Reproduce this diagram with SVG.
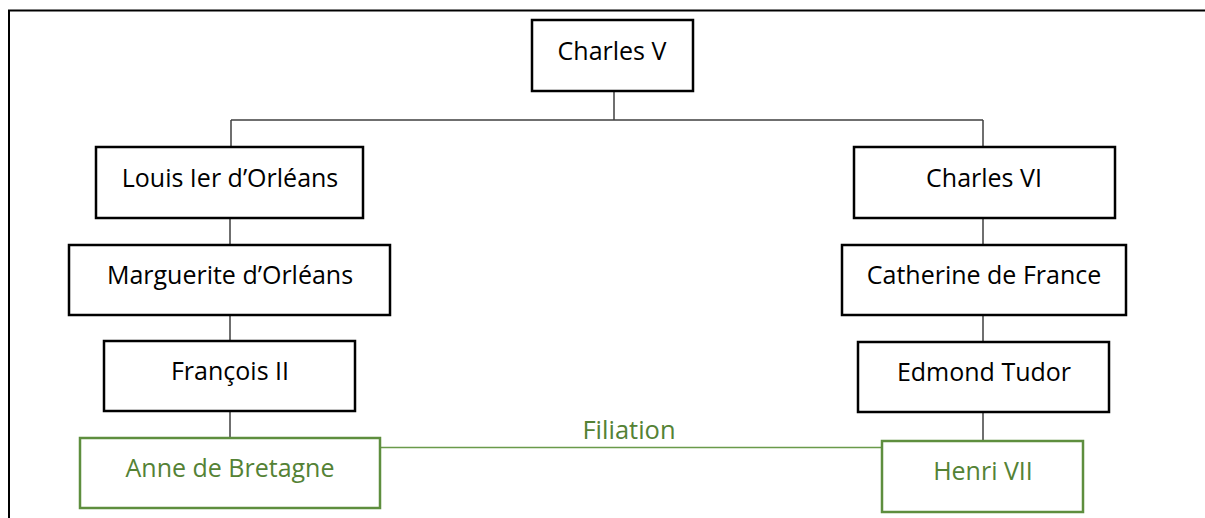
<svg xmlns="http://www.w3.org/2000/svg" width="1205" height="518" viewBox="0 0 1205 518">
<style>
.box{fill:#fff;stroke:#000;stroke-width:2.5}
.gbox{fill:#fff;stroke:#5E8E3E;stroke-width:2.5}
.t{font-family:"Open Sans","Liberation Sans",sans-serif;font-size:25px;fill:#000;text-anchor:middle}
.gt{fill:#548235}
.c{stroke:#404040;stroke-width:1.5;fill:none}
.gc{stroke:#6A9A4A;stroke-width:1.5;fill:none}
</style>
<rect width="1205" height="518" fill="#fff"/>
<path d="M9 518V10.5H1205" fill="none" stroke="#000" stroke-width="2"/>
<g id="connectors">
<path class="c" d="M614 91V120M231 120H983M231 120V147M983 120V147"/>
<path class="c" d="M230 218V245M230 315V341M230 411V438"/>
<path class="c" d="M983 218V245M983 315V342M983 412V441"/>
<path class="gc" d="M380 447.5H882"/>
<text class="t gt" x="629" y="439" style="font-size:25.5px">Filiation</text>
</g>
<g id="charles-v"><rect class="box" x="532" y="20" width="161" height="71"/><text class="t" x="612" y="60">Charles V</text></g>
<g id="louis"><rect class="box" x="96" y="147" width="267" height="71"/><text class="t" x="230" y="187">Louis Ier d’Orléans</text></g>
<g id="marguerite"><rect class="box" x="69" y="245" width="321" height="70"/><text class="t" x="230" y="284">Marguerite d’Orléans</text></g>
<g id="francois"><rect class="box" x="104" y="341" width="251" height="70"/><text class="t" x="230" y="380">François II</text></g>
<g id="anne"><rect class="gbox" x="80" y="438" width="300" height="70"/><text class="t gt" x="230" y="477">Anne de Bretagne</text></g>
<g id="charles-vi"><rect class="box" x="854" y="147" width="261" height="71"/><text class="t" x="984" y="187">Charles VI</text></g>
<g id="catherine"><rect class="box" x="842" y="245" width="284" height="70"/><text class="t" x="984" y="284">Catherine de France</text></g>
<g id="edmond"><rect class="box" x="858" y="342" width="251" height="70"/><text class="t" x="984" y="381">Edmond Tudor</text></g>
<g id="henri"><rect class="gbox" x="882" y="441" width="201" height="71"/><text class="t gt" x="983" y="480">Henri VII</text></g>
</svg>
